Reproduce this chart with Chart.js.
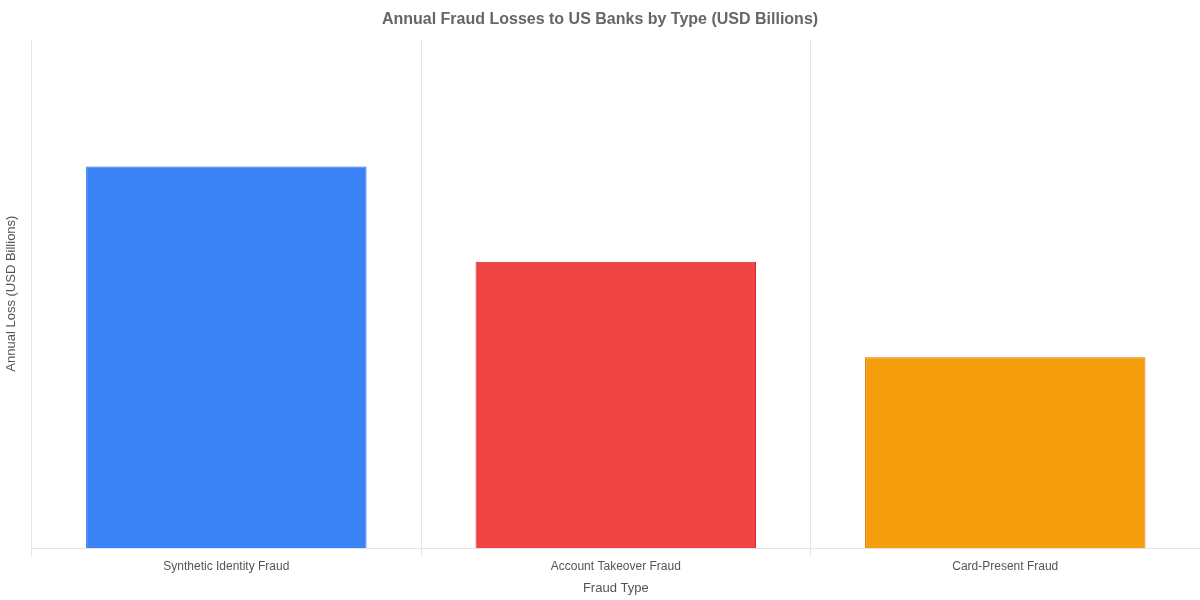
<!DOCTYPE html>
<html><head><meta charset="utf-8">
<script src="https://cdn.jsdelivr.net/npm/chart.js@4"></script>
<style>html,body{margin:0;background:#fff}#w{width:1200px;height:600px}</style>
</head><body><div id="w"><canvas id="c"></canvas></div>
<script>
const categories = ["Synthetic Identity Fraud", "Account Takeover Fraud", "Card-Present Fraud"];
const losses = [6, 4.5, 3];
const fills = ["#3b82f6", "#ef4444", "#f59e0b"];
const borders = ["#2563eb", "#dc2626", "#d97706"];
Chart.defaults.font.family = "Helvetica, Arial, 'Liberation Sans', sans-serif";
new Chart(document.getElementById('c'), {
  type: 'bar',
  data: { labels: categories, datasets: [{ data: losses, backgroundColor: fills, borderColor: borders, borderWidth: 1 }] },
  options: {
    responsive: true, maintainAspectRatio: false, animation: false,
    layout: { padding: { left: 0, right: 0, top: 0, bottom: 0 } },
    plugins: {
      legend: { display: false },
      title: { display: true, text: 'Annual Fraud Losses to US Banks by Type (USD Billions)', color: '#666', font: { size: 16, weight: 'bold' }, padding: { top: 10, bottom: 10 } }
    },
    scales: {
      x: { grid: { color: '#e5e5e5', drawTicks: true }, ticks: { color: '#555', font: { size: 12 } },
           title: { display: true, text: 'Fraud Type', color: '#555', font: { size: 13 } } },
      y: { min: 0, max: 8, grid: { display: false }, border: { display: false }, ticks: { display: false },
           title: { display: true, text: 'Annual Loss (USD Billions)', color: '#555', font: { size: 13 } } }
    }
  }
});
</script></body></html>
